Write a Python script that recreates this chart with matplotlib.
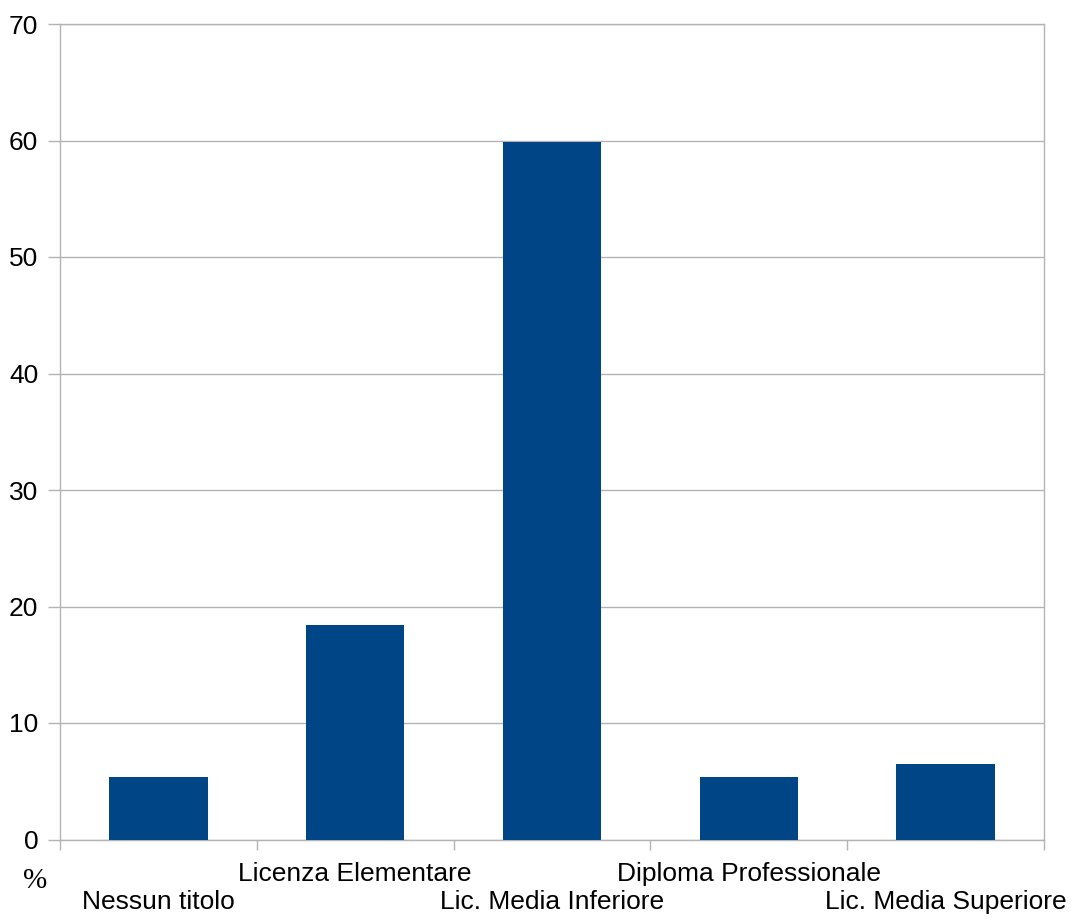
import matplotlib
matplotlib.use("Agg")
import matplotlib.pyplot as plt
from matplotlib.transforms import ScaledTranslation
import numpy as np

categories = ["Nessun titolo", "Licenza Elementare", "Lic. Media Inferiore",
              "Diploma Professionale", "Lic. Media Superiore"]
values = [5.35, 18.4, 59.9, 5.35, 6.45]
y_ticks = [0, 10, 20, 30, 40, 50, 60, 70]

BAR_COLOR = "#004586"
GRID_COLOR = "#b3b3b3"
FS = 19

plt.rcParams["font.family"] = ["Liberation Sans", "DejaVu Sans"]

W, H = 1072, 919
fig = plt.figure(figsize=(W / 100, H / 100), dpi=100)
left, right, top, bottom = 60, 1044, 24, 839.5
ax = fig.add_axes([left / W, (H - bottom) / H, (right - left) / W, (bottom - top) / H])

x = np.arange(len(categories))
ax.bar(x, values, width=0.5, color=BAR_COLOR, zorder=3)

ax.set_xlim(-0.5, len(categories) - 0.5)
ax.set_ylim(0, 70)
ax.set_yticks(y_ticks)
ax.set_yticklabels([str(t) for t in y_ticks], fontsize=FS)
ax.yaxis.grid(True, color=GRID_COLOR, linewidth=1, zorder=0)

# category boundaries carry the tick marks, centers carry the labels
ax.set_xticks(np.arange(-0.5, len(categories), 1.0), minor=True)
ax.set_xticks(x)
ax.set_xticklabels(categories, fontsize=FS)
ax.tick_params(axis="x", which="major", length=0, pad=16)
ax.tick_params(axis="x", which="minor", length=7.5, width=1, color=GRID_COLOR)
ax.tick_params(axis="y", length=8.6, width=1, color=GRID_COLOR, pad=7)

# staggered category labels: every other one drops to a second row
for i, lab in enumerate(ax.get_xticklabels()):
    if i % 2 == 0:
        lab.set_transform(lab.get_transform() + ScaledTranslation(0, -0.285, fig.dpi_scale_trans))

for s in ax.spines.values():
    s.set_color(GRID_COLOR)
    s.set_linewidth(1)

fig.text(35 / W, 1 - 881 / H, "%", fontsize=21, ha="center", va="center",
         family=["Liberation Serif", "DejaVu Serif"])

fig.savefig("out.png", dpi=100)
